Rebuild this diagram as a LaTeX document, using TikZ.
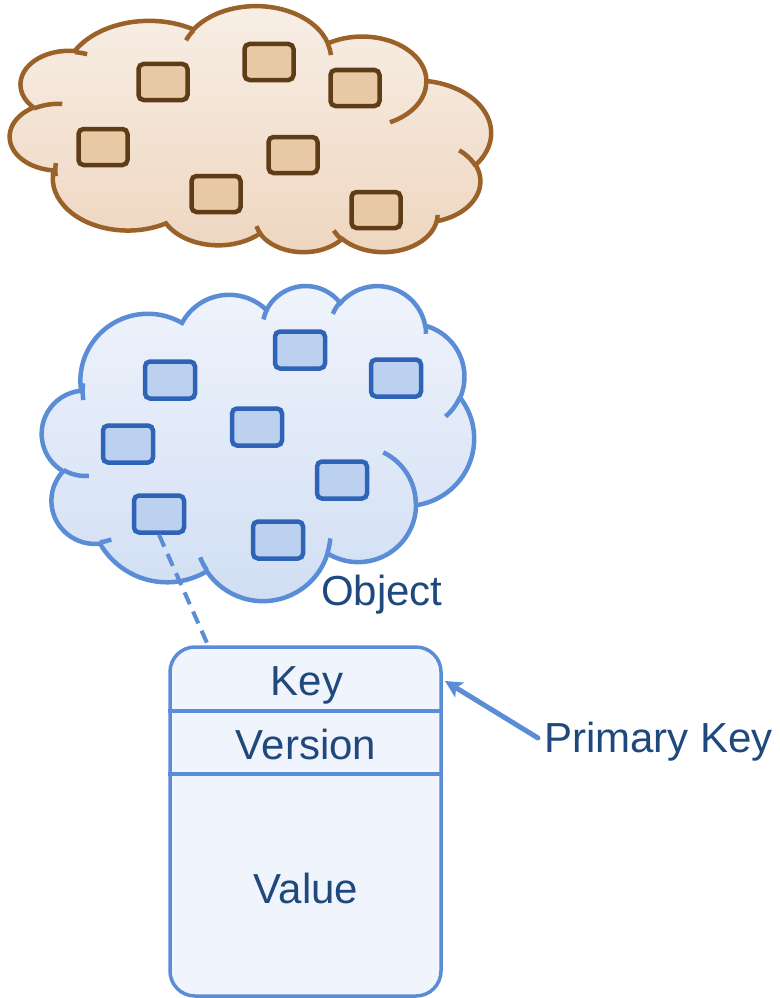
\documentclass[tikz,border=0pt]{standalone}
\usepackage{fontspec}
\setmainfont{Liberation Sans}
\usetikzlibrary{arrows.meta}
\definecolor{brline}{HTML}{9A6228}
\definecolor{brtop}{HTML}{F8EFE7}
\definecolor{brbot}{HTML}{EED6BF}
\definecolor{brrf}{HTML}{E8C9A6}
\definecolor{brrd}{HTML}{5E3D16}
\definecolor{buline}{HTML}{5B8DD6}
\definecolor{butop}{HTML}{F0F4FC}
\definecolor{bubot}{HTML}{D0DEF3}
\definecolor{burf}{HTML}{BCD1F0}
\definecolor{burd}{HTML}{2F63B5}
\definecolor{boxfill}{HTML}{F0F4FC}
\definecolor{tblue}{HTML}{1F497D}
\newcommand\carc[4]{arc[x radius=#1, y radius=#2, start angle={atan2((#1)*sin(#3),(#2)*cos(#3))}, delta angle={mod(atan2((#1)*sin((#3)+(#4)),(#2)*cos((#3)+(#4)))-atan2((#1)*sin(#3),(#2)*cos(#3))+720,360)}]}
\newcommand\cloudpath{(39,143.7) \carc{67.53}{91.90}{-190.487}{123.781} \carc{53.33}{72.67}{-144.102}{89.945} \carc{43.65}{59.45}{-145.808}{99.723} \carc{48.57}{65.95}{-130.986}{117.242} \carc{53.33}{72.73}{-78.709}{109.027} \carc{67.75}{92.20}{-46.267}{130.269} \carc{57.85}{78.67}{0.625}{114.033} \carc{67.52}{92.15}{22.452}{115.173} \carc{77.20}{105.43}{66.243}{75.711} \carc{43.60}{59.18}{-274.942}{146.736} \carc{43.45}{59.45}{-246.829}{152.519} -- cycle}
\newcommand\cloudstubs{(46.93,261.77) \carc{43.45}{59.45}{86.742}{26.430} (69.28,348.99) \carc{43.60}{59.18}{73.610}{11.447} (164.78,390.90) \carc{67.52}{92.15}{137.624}{14.081} (288.27,347.51) \carc{67.52}{92.15}{6.453}{15.998} (341.29,229.54) \carc{57.85}{78.67}{-70.292}{70.917} (417.98,153.54) \carc{53.33}{72.73}{30.318}{27.752} (383.24,54.26) \carc{48.57}{65.95}{-13.744}{14.859} (290.78,39.52) \carc{48.57}{65.95}{-149.181}{18.195} (221.41,47.20) \carc{43.65}{59.45}{-163.494}{17.686} (41.27,157.89) \carc{67.53}{91.90}{-190.487}{19.6}}
\tikzset{
  brect/.style={draw=brrd, fill=brrf, line width=4.5pt, rounded corners=5pt, minimum width=49pt, minimum height=36pt, inner sep=0pt},
  urect/.style={draw=burd, fill=burf, line width=4.5pt, rounded corners=5pt, minimum width=50pt, minimum height=37pt, inner sep=0pt},
  txt/.style={text=tblue, inner sep=0pt, font=\fontsize{42}{50}\selectfont},
  bline/.style={draw=buline, line width=3.5pt}
}
\begin{document}
\begin{tikzpicture}[x=1pt,y=-1pt]
\useasboundingbox (0,0) rectangle (779,998);
% brown cloud (vertically mirrored)
\begin{scope}[shift={(10,253)}, x=1.11343pt, y=0.56944pt]
\path[draw=brline, line width=4.5pt, top color=brtop, bottom color=brbot] \cloudpath;
\draw[brline, line width=4.5pt] \cloudstubs;
\end{scope}
\node[brect] (b1) at (163,82) {};
\node[brect] (b2) at (269,62) {};
\node[brect] (b3) at (355,88) {};
\node[brect] (b4) at (103,147) {};
\node[brect] (b5) at (293,155) {};
\node[brect] (b6) at (216,194) {};
\node[brect] (b7) at (376,210) {};
% blue cloud
\begin{scope}[shift={(42,285)}, x=1pt, y=-0.72917pt]
\path[draw=buline, line width=4.5pt, top color=butop, bottom color=bubot] \cloudpath;
\draw[buline, line width=4.5pt] \cloudstubs;
\end{scope}
\node[urect] (u1) at (170,380) {};
\node[urect] (u2) at (300,350) {};
\node[urect] (u3) at (396,378) {};
\node[urect] (u4) at (128,444) {};
\node[urect] (u5) at (257,427) {};
\node[urect] (u6) at (342,480) {};
\node[urect] (u7) at (159,514) {};
\node[urect] (u8) at (278,540) {};
\node[txt, anchor=base west] (obj) at (321,605) {Object};
% record box
\node[bline, fill=boxfill, rounded corners=25pt, minimum width=271pt, minimum height=349pt, inner sep=0pt] (box) at (305.5,821.5) {};
\draw[bline] (box.west |- 0,711) -- (box.east |- 0,711);
\draw[bline] (box.west |- 0,774) -- (box.east |- 0,774);
\node[txt, anchor=base] (key) at (307,695) {Key};
\node[txt, anchor=base] (ver) at (306,759) {Version};
\node[txt, anchor=base] (val) at (306,903) {Value};
\draw[buline, line width=4pt, dash pattern=on 13pt off 8pt] (u7.south) -- (box.north -| 208,0);
% primary key
\node[txt, anchor=base west] (pk) at (544,752) {Primary Key};
\coordinate (pkfrom) at (538,738);
\coordinate (pkto) at (445,681);
\draw[buline, line width=5pt, line cap=round, -{Stealth[length=17pt, width=17pt, inset=4pt]}] (pkfrom) -- (pkto);
\end{tikzpicture}
\end{document}
